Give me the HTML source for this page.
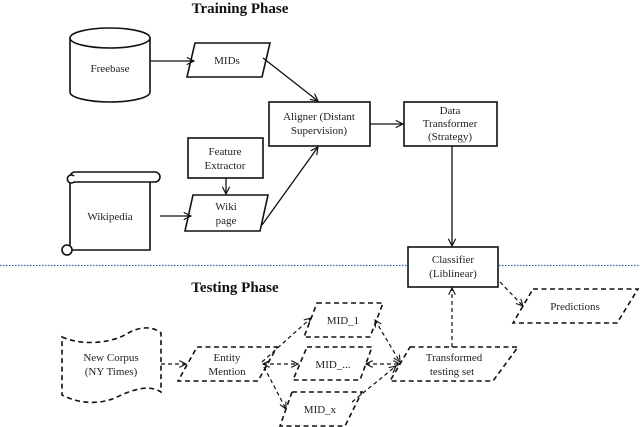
<!DOCTYPE html>
<html><head><meta charset="utf-8"><style>
html,body{margin:0;padding:0;background:#fff}
svg{display:block}
text{font-family:"Liberation Serif",serif;font-size:11px;fill:#222}
.b{font-weight:bold;font-size:15px;fill:#111}
</style></head><body>
<svg width="640" height="427" viewBox="0 0 640 427" xmlns="http://www.w3.org/2000/svg">
<defs>
<marker id="a" viewBox="0 0 10 10" refX="9" refY="5" markerWidth="7" markerHeight="7" orient="auto-start-reverse"><path d="M1,1 L9,5 L1,9" fill="none" stroke="#111" stroke-width="1.3"/></marker>
</defs>
<text class="b" x="240" y="13" text-anchor="middle">Training Phase</text>
<text class="b" x="235" y="292" text-anchor="middle">Testing Phase</text>
<g stroke="#2e64b8" stroke-width="1.2" stroke-dasharray="1.5,1.5">
<line x1="0" y1="265.5" x2="407" y2="265.5"/><line x1="499" y1="265.5" x2="640" y2="265.5"/>
</g>
<g fill="#fff" stroke="#111" stroke-width="1.6">
<path d="M70,38 L70,92 A40,10 0 0 0 150,92 L150,38"/>
<ellipse cx="110" cy="38" rx="40" ry="10"/>
<polygon points="195,43 270,43 262,77 187,77"/>
<rect x="269" y="102" width="101" height="44"/>
<rect x="404" y="102" width="93" height="44"/>
<rect x="188" y="138" width="75" height="40"/>
<polygon points="193,195 268,195 260,231 185,231"/>
<rect x="408" y="247" width="90" height="40"/>
<path d="M70,176 L70,250 L150,250 L150,182"/>
<rect x="70" y="172" width="90" height="10" rx="5"/>
<path d="M74,176 a4,4 0 1 0 0,6"/>
<circle cx="67" cy="250" r="5"/>
</g>
<g fill="none" stroke="#111" stroke-width="1.3" marker-end="url(#a)">
<line x1="150" y1="61" x2="194" y2="61"/>
<line x1="263" y1="58" x2="318" y2="101"/>
<line x1="262" y1="225" x2="318" y2="147"/>
<line x1="160" y1="216" x2="191" y2="216"/>
<line x1="226" y1="178" x2="226" y2="194"/>
<line x1="370" y1="124" x2="403" y2="124"/>
<line x1="452" y1="146" x2="452" y2="246"/>
</g>
<text x="227" y="64" text-anchor="middle">MIDs</text>
<text x="110" y="72" text-anchor="middle">Freebase</text>
<text x="319" y="120" text-anchor="middle">Aligner (Distant</text>
<text x="319" y="134" text-anchor="middle">Supervision)</text>
<text x="450" y="114" text-anchor="middle">Data</text>
<text x="450" y="127" text-anchor="middle">Transformer</text>
<text x="450" y="140" text-anchor="middle">(Strategy)</text>
<text x="225" y="155" text-anchor="middle">Feature</text>
<text x="225" y="169" text-anchor="middle">Extractor</text>
<text x="226" y="210" text-anchor="middle">Wiki</text>
<text x="226" y="224" text-anchor="middle">page</text>
<text x="110" y="220" text-anchor="middle">Wikipedia</text>
<text x="453" y="263" text-anchor="middle">Classifier</text>
<text x="453" y="277" text-anchor="middle">(Liblinear)</text>
<g fill="none" stroke="#111" stroke-width="1.6" stroke-dasharray="5,3.5">
<path d="M62,337 C80,345 110,345 130,332 C145,325 155,328 161,333 L161,392 C150,385 135,388 115,398 C95,406 75,402 62,395 Z"/>
<polygon points="197,347 277,347 258,381 178,381"/>
<polygon points="317,303 383,303 370,337 304,337"/>
<polygon points="307,347 372,347 360,380 293,380"/>
<polygon points="292,392 362,392 345,426 280,426"/>
<polygon points="410,347 518,347 493,381 390,381"/>
<polygon points="533,289 638,289 617,323 513,323"/>
</g>
<g fill="none" stroke="#111" stroke-width="1.2" stroke-dasharray="4,3">
<line x1="161" y1="364" x2="186" y2="364" marker-end="url(#a)"/>
<line x1="263" y1="364" x2="298" y2="364" marker-start="url(#a)" marker-end="url(#a)"/>
<line x1="262" y1="362" x2="311" y2="318" marker-end="url(#a)"/>
<line x1="264" y1="367" x2="286" y2="409" marker-end="url(#a)"/>
<line x1="375" y1="320" x2="400" y2="362" marker-start="url(#a)" marker-end="url(#a)"/>
<line x1="366" y1="364" x2="400" y2="364" marker-start="url(#a)" marker-end="url(#a)"/>
<line x1="352" y1="402" x2="396" y2="366" marker-end="url(#a)"/>
<line x1="452" y1="347" x2="452" y2="288" marker-end="url(#a)"/>
<line x1="500" y1="282" x2="523" y2="306" marker-end="url(#a)"/>
</g>
<text x="111" y="361" text-anchor="middle">New Corpus</text>
<text x="111" y="375" text-anchor="middle">(NY Times)</text>
<text x="227" y="361" text-anchor="middle">Entity</text>
<text x="227" y="375" text-anchor="middle">Mention</text>
<text x="343" y="324" text-anchor="middle">MID_1</text>
<text x="333" y="368" text-anchor="middle">MID_...</text>
<text x="320" y="413" text-anchor="middle">MID_x</text>
<text x="454" y="361" text-anchor="middle">Transformed</text>
<text x="452" y="375" text-anchor="middle">testing set</text>
<text x="575" y="310" text-anchor="middle">Predictions</text>
</svg>
</body></html>
